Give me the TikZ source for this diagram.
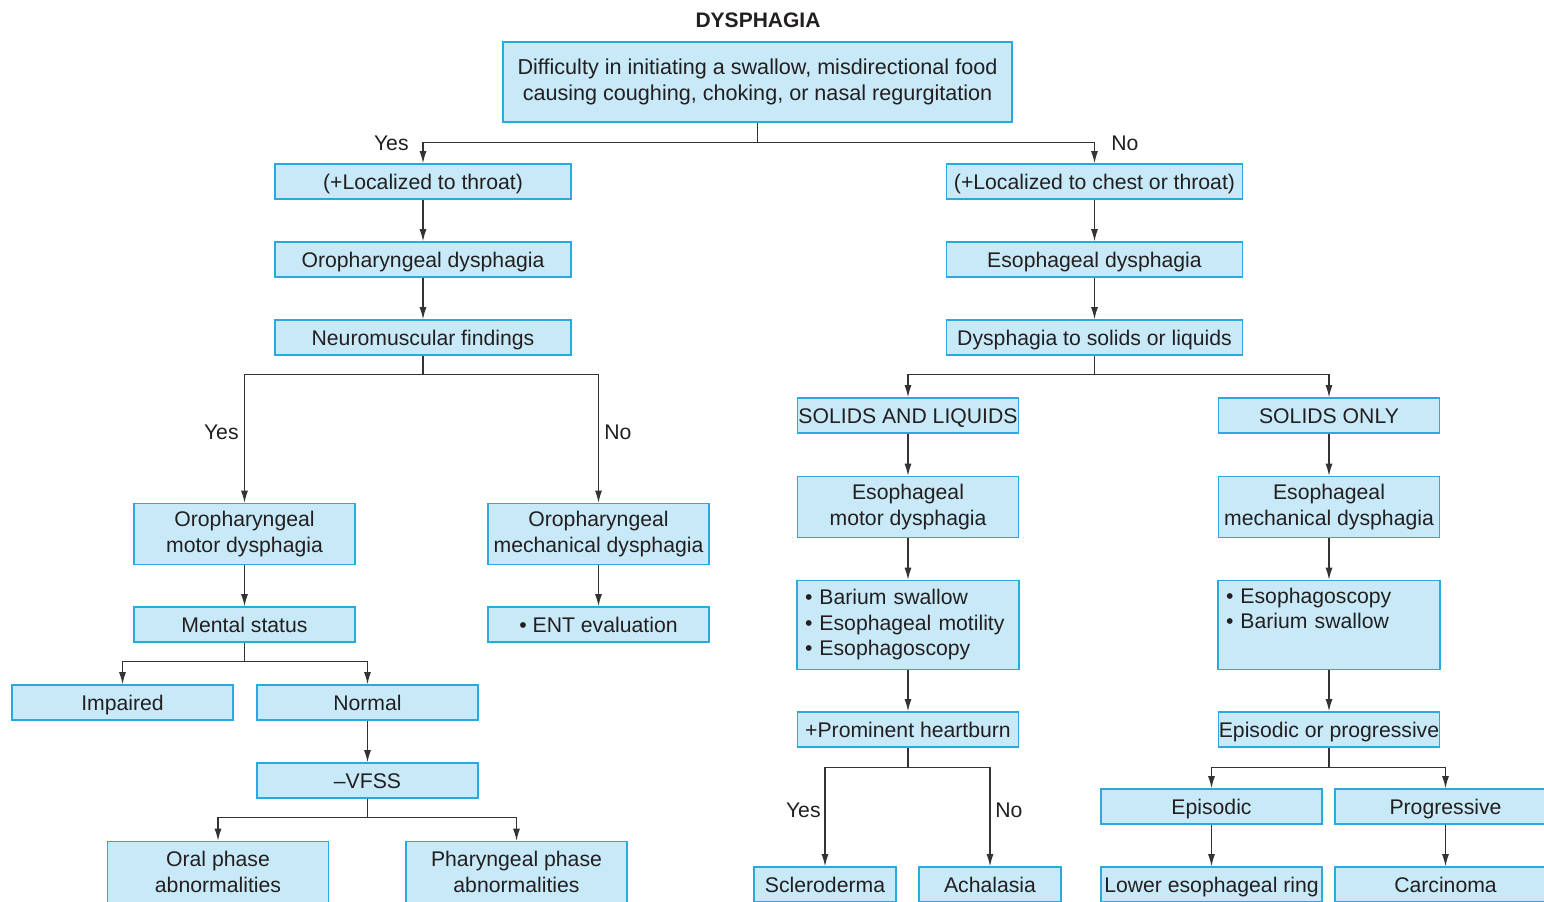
\documentclass[tikz,border=0pt]{standalone}
\usepackage{fontspec}
\setmainfont{Liberation Sans}
\usetikzlibrary{arrows.meta}
\definecolor{boxfill}{HTML}{C8E9F8}
\definecolor{boxline}{HTML}{2AA8E0}
\definecolor{linec}{HTML}{333333}
\definecolor{txt}{HTML}{231F20}
\begin{document}
\begin{tikzpicture}[x=0.5pt,y=-0.5pt,
 box/.style={draw=boxline, fill=boxfill, line width=0.8pt, inner sep=0pt, minimum width=148pt, minimum height=17.5pt, align=center, font=\fontsize{10.6pt}{12.75pt}\selectfont, text=txt, text height=7.6pt, text depth=0pt},
 nbox/.style={box, minimum width=110.5pt},
 tbox/.style={nbox, minimum height=30.5pt, text height=, text depth=},
 sbox/.style={box, minimum width=71pt},
 lbox/.style={box, minimum width=111pt, minimum height=44.5pt, text width=103pt, align=left, text height=, text depth=},
 arr/.style={draw=linec, line width=0.6pt, -{Latex[length=6pt,width=3.5pt]}},
 ln/.style={draw=linec, line width=0.6pt},
 lab/.style={font=\fontsize{10.6pt}{12.75pt}\selectfont, text=txt, inner sep=0pt}]
\useasboundingbox (0,0) rectangle (1544,901);
\clip (0,0) rectangle (1544,901);
\fill[white] (0,0) rectangle (1544,901);

\node[lab, font=\bfseries\fontsize{10.5pt}{12.75pt}\selectfont] (title) at (758,20) {DYSPHAGIA};
\node[box, minimum width=254.5pt, minimum height=40pt, text height=, text depth=, font=\fontsize{10.8pt}{13pt}\selectfont] (top) at (757.5,82) {Difficulty in initiating a swallow, misdirectional food\\causing coughing, choking, or nasal regurgitation};

\node[box] (l1) at (423,181.5) {(+Localized to throat)};
\node[box] (l2) at (423,259.5) {Oropharyngeal dysphagia};
\node[box] (l3) at (423,337.5) {Neuromuscular findings};
\node[box] (r1) at (1094.5,181.5) {(+Localized to chest or throat)};
\node[box] (r2) at (1094.5,259.5) {Esophageal dysphagia};
\node[box] (r3) at (1094.5,337.5) {Dysphagia to solids or liquids};

\node[tbox] (omd) at (244.5,534) {Oropharyngeal\\motor dysphagia};
\node[tbox] (omech) at (598.5,534) {Oropharyngeal\\mechanical dysphagia};
\node[nbox] (ms) at (244.5,624.5) {Mental status};
\node[nbox] (ent) at (598.5,624.5) {\textbullet\ ENT evaluation};
\node[nbox] (imp) at (122.5,702.5) {Impaired};
\node[nbox] (norm) at (367.5,702.5) {Normal};
\node[nbox] (vfss) at (367.5,780.5) {--VFSS};
\node[tbox] (oral) at (218,872) {Oral phase\\abnormalities};
\node[tbox] (phar) at (516.5,872) {Pharyngeal phase\\abnormalities};

\node[nbox] (sal) at (908,415.5) {SOLIDS AND LIQUIDS};
\node[nbox] (so) at (1329,415.5) {SOLIDS ONLY};
\node[tbox] (emd) at (908,507) {Esophageal\\motor dysphagia};
\node[tbox] (emech) at (1329,507) {Esophageal\\mechanical dysphagia};
\node[lbox] (bar) at (908,625) {\textbullet\ Barium swallow\\\textbullet\ Esophageal motility\\\textbullet\ Esophagoscopy};
\node[lbox] (eso) at (1329,625) {\textbullet\ Esophagoscopy\\\textbullet\ Barium swallow\\\strut};
\node[nbox] (hb) at (908,729.5) {+Prominent heartburn};
\node[nbox] (ep) at (1329,729.5) {Episodic or progressive};
\node[sbox] (scl) at (825,884.5) {Scleroderma};
\node[sbox] (ach) at (990,884.5) {Achalasia};
\node[nbox] (epi) at (1211.5,806.5) {Episodic};
\node[nbox] (prog) at (1445.5,806.5) {Progressive};
\node[nbox] (ler) at (1211.5,884.5) {Lower esophageal ring};
\node[nbox] (carc) at (1445.5,884.5) {Carcinoma};

% connectors
\draw[ln] (top.south) -- ++(0,20) coordinate (j1);
\draw[arr] (j1) -| (l1.north);
\draw[arr] (j1) -| (r1.north);
\draw[arr] (l1) -- (l2);
\draw[arr] (l2) -- (l3);
\draw[arr] (r1) -- (r2);
\draw[arr] (r2) -- (r3);

\draw[ln] (l3.south) -- ++(0,19) coordinate (j2);
\draw[arr] (j2) -| (omd.north);
\draw[arr] (j2) -| (omech.north);
\draw[arr] (omd) -- (ms);
\draw[arr] (omech) -- (ent);
\draw[ln] (ms.south) -- ++(0,19) coordinate (j3);
\draw[arr] (j3) -| (imp.north);
\draw[arr] (j3) -| (norm.north);
\draw[arr] (norm) -- (vfss);
\draw[ln] (vfss.south) -- ++(0,19) coordinate (j4);
\draw[arr] (j4) -| (oral.north);
\draw[arr] (j4) -| (phar.north);

\draw[ln] (r3.south) -- ++(0,19) coordinate (j5);
\draw[arr] (j5) -| (sal.north);
\draw[arr] (j5) -| (so.north);
\draw[arr] (sal) -- (emd);
\draw[arr] (so) -- (emech);
\draw[arr] (emd) -- (bar);
\draw[arr] (emech) -- (eso);
\draw[arr] (bar) -- (hb);
\draw[arr] (eso) -- (ep);
\draw[ln] (hb.south) -- ++(0,20) coordinate (j6);
\draw[arr] (j6) -| (scl.north);
\draw[arr] (j6) -| (ach.north);
\draw[ln] (ep.south) -- ++(0,20) coordinate (j7);
\draw[arr] (j7) -| (epi.north);
\draw[arr] (j7) -| (prog.north);
\draw[arr] (epi) -- (ler);
\draw[arr] (prog) -- (carc);

% labels
\node[lab, anchor=east] (y1) at (409,143) {Yes};
\node[lab, anchor=west] (n1) at (1111,143) {No};
\node[lab, anchor=east] (y2) at (239,432) {Yes};
\node[lab, anchor=west] (n2) at (604,432) {No};
\node[lab, anchor=east] (y3) at (821,810) {Yes};
\node[lab, anchor=west] (n3) at (995,810) {No};
\end{tikzpicture}
\end{document}
